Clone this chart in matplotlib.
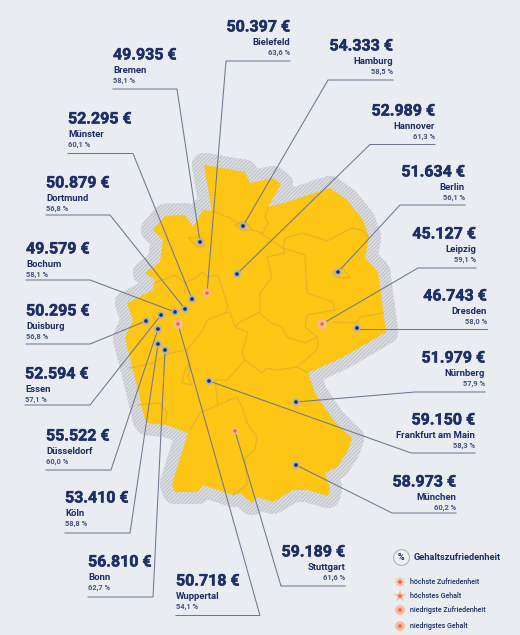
"""Gehalt und Gehaltszufriedenheit in deutschen Staedten, Karte mit Beschriftungen"""

import numpy as np
import matplotlib
matplotlib.use('Agg')
import matplotlib.pyplot as plt
import matplotlib.patheffects as pe

plt.rcParams['font.family'] = ['Roboto', 'DejaVu Sans']
plt.rcParams['hatch.color'] = '#b4b9be'
plt.rcParams['hatch.linewidth'] = 0.5

# values
cities = ['Bremen', 'Bielefeld', 'Hamburg', 'Münster', 'Hannover', 'Dortmund', 'Berlin', 'Bochum',
          'Leipzig', 'Duisburg', 'Dresden', 'Essen', 'Nürnberg', 'Frankfurt am Main', 'Düsseldorf',
          'München', 'Köln', 'Bonn', 'Stuttgart', 'Wuppertal']
salaries = ['49.935 €', '50.397 €', '54.333 €', '52.295 €', '52.989 €', '50.879 €', '51.634 €', '49.579 €',
            '45.127 €', '50.295 €', '46.743 €', '52.594 €', '51.979 €', '59.150 €', '55.522 €',
            '58.973 €', '53.410 €', '56.810 €', '59.189 €', '50.718 €']
satisfaction = ['58,1 %', '63,6 %', '58,5 %', '60,1 %', '61,3 %', '56,8 %', '56,1 %', '58,1 %',
                '59,1 %', '56,8 %', '58,0 %', '57,1 %', '57,9 %', '58,3 %', '60,0 %',
                '60,2 %', '58,8 %', '62,7 %', '61,6 %', '54,1 %']
kinds = ['', 'top_sat', '', '', '', '', '', '',
         'low_pay', '', '', '', '', '', '',
         '', '', '', 'top_pay', 'low_sat']

# where the cities sit on the map (picture pixels)
city_x = [200, 207, 243, 192, 237, 185, 338, 175, 322, 146, 357, 161, 296, 209, 158, 296, 158, 165, 235, 178]
city_y = [242, 293, 226, 299, 274, 309, 272, 312, 324, 321, 328, 315, 402, 381, 329, 465, 344, 350, 431, 324]

# label blocks: text edge, y of amount, rule y, far end and elbow of the rule
label_x = [113, 290, 393, 68, 435, 46, 465, 26, 476, 26, 487, 25, 485, 475, 46, 456, 65, 88, 345, 176]
label_y = [55, 27, 46, 119, 111, 183, 172, 249, 234, 311, 296, 374, 358, 420, 436, 482, 498, 562, 552, 581]
rule_y = [89, 61, 80, 153.5, 144.5, 215, 205, 280, 268, 344, 329, 405, 392, 453, 470, 513, 533, 597, 586, 615.5]
elbow_x = [177, 226, 328, 133, 370, 110, 400, 90, 418, 90, 357, 90, 415, 411, 111, 392, 130, 153, 281, 260]
right_aligned = [False, True, True, False, True, False, True, False, True, False, True, False, True, True,
                 False, True, False, False, True, False]

# Germany outline and inner borders
outline = [(204, 165), (245, 172), (250, 183), (273, 178), (281, 184), (268, 207), (287, 202), (330, 188),
           (347, 200), (363, 220), (369, 237), (365, 258), (378, 272), (386, 332), (343, 357), (308, 373),
           (315, 393), (333, 420), (352, 438), (348, 450), (337, 467), (325, 473), (330, 488), (328, 496),
           (307, 490), (293, 490), (273, 502), (257, 497), (252, 503), (240, 493), (233, 495), (203, 485),
           (198, 492), (175, 492), (172, 484), (188, 433), (167, 425), (147, 423), (145, 420), (138, 390),
           (130, 358), (125, 338), (133, 320), (127, 303), (153, 290), (155, 280), (145, 273), (160, 262),
           (163, 240), (153, 230), (165, 216), (185, 215), (193, 227), (203, 210), (212, 211)]
borders = [
    [(212, 211), (230, 218), (237, 223), (245, 221), (252, 230), (263, 233), (268, 223), (265, 217), (268, 207)],
    [(260, 233), (283, 248), (305, 255), (307, 293), (333, 302), (335, 310), (307, 315), (305, 327), (317, 337),
     (305, 343), (287, 337), (282, 327), (270, 322), (260, 313), (260, 293), (272, 277), (267, 257), (285, 253),
     (283, 248)],
    [(285, 238), (303, 233), (327, 241), (352, 228), (362, 230), (368, 237)],
    [(283, 248), (285, 238)],
    [(260, 312), (240, 322), (235, 327), (230, 312), (225, 313), (228, 307), (218, 275), (208, 277), (202, 272),
     (197, 277), (185, 283), (185, 293)],
    [(185, 283), (175, 275), (155, 283)],
    [(235, 327), (248, 332), (242, 353), (245, 360), (227, 380), (215, 380), (218, 405), (200, 413), (190, 430)],
    [(225, 313), (207, 320), (203, 330), (187, 350), (170, 353), (153, 363), (130, 368)],
    [(187, 350), (190, 363), (185, 370), (182, 383), (192, 385), (188, 377), (190, 363)],
    [(218, 405), (237, 397), (242, 407), (248, 425), (257, 437), (255, 450), (245, 458), (247, 485), (233, 495)],
    [(245, 360), (262, 373), (267, 368), (277, 370), (297, 367), (308, 373)],
    [(297, 367), (317, 350), (318, 342), (317, 337)],
    [(333, 322), (357, 323), (360, 317), (383, 313)],
    [(138, 405), (160, 403), (167, 413), (165, 423)],
    [(189, 238), (202, 237), (204, 247), (197, 247), (189, 238)],
    [(235, 225), (245, 221), (252, 230), (242, 230), (235, 225)],
    [(333, 272), (342, 267), (350, 278), (335, 277), (333, 272)],
]

legend_labels = ['höchste Zufriedenheit', 'höchstes Gehalt', 'niedrigste Zufriedenheit', 'niedrigstes Gehalt']
legend_kinds = ['top_sat', 'top_pay', 'low_sat', 'low_pay']
legend_y = [582, 596, 610, 626]

navy = '#1c2f66'
line_col = '#6f7890'
bg = '#e9ecf0'
yellow = '#fdc514'
heavy = [pe.withStroke(linewidth=0.35, foreground=navy)]


def draw_marker(ax, x, y, kind):
    """one city marker, plain dot or one of the four highlighted ones"""
    if kind == '':
        ax.scatter(x, y, s=30, color='#aab3c4', edgecolors='none', zorder=5)
        ax.scatter(x, y, s=7, color=navy, edgecolors='none', zorder=6)
        return
    shape = {'top_sat': (8, 1, 0), 'top_pay': '*', 'low_sat': 'o', 'low_pay': 'o'}[kind]
    size = {'top_sat': 70, 'top_pay': 80, 'low_sat': 50, 'low_pay': 50}[kind]
    ax.scatter(x, y, s=size, marker=shape, color='#f8b9a0', edgecolors='none', zorder=5)
    ax.scatter(x, y, s=7, color='#ef6a3c', edgecolors='none', zorder=6)


fig = plt.figure(figsize=(5.2, 6.35), dpi=100, facecolor=bg)
ax = fig.add_axes([0, 0, 1, 1])
ax.set_xlim(0, 520)
ax.set_ylim(635, 0)
ax.axis('off')

# hatched halo round the country: everything closer than 12 px to the outline
shape = np.array(outline)
grid_x, grid_y = np.meshgrid(np.arange(90, 420, 1.0), np.arange(140, 530, 1.0))
pts = np.column_stack([grid_x.ravel(), grid_y.ravel()])
a = shape
b = np.roll(shape, -1, axis=0)
dist = np.full(len(pts), 1e9)
for p, q in zip(a, b):
    d = q - p
    t = np.clip(((pts - p) @ d) / (d @ d), 0, 1)
    dist = np.minimum(dist, np.hypot(*(pts - p - t[:, None] * d).T))
dist = dist.reshape(grid_x.shape)
ax.contourf(grid_x, grid_y, dist, levels=[0, 12], colors=['#dadde1'], hatches=['/////////'], zorder=1)

ax.fill(shape[:, 0], shape[:, 1], color=yellow, zorder=2, lw=0)
for border in borders:
    line = np.array(border)
    ax.plot(line[:, 0], line[:, 1], color='#e6b22c', lw=0.8, zorder=3)

# labels and leader lines
for i in range(len(cities)):
    ha = 'right' if right_aligned[i] else 'left'
    x0 = label_x[i]
    ax.text(x0, label_y[i], salaries[i], ha=ha, va='center', fontsize=11.5, fontweight='bold', color=navy,
            path_effects=heavy)
    ax.text(x0, label_y[i] + 15.5, cities[i], ha=ha, va='center', fontsize=6.8, fontweight='bold', color=navy)
    ax.text(x0, label_y[i] + 26, satisfaction[i], ha=ha, va='center', fontsize=5.4, fontweight='bold',
            color='#44547f')
    ax.plot([x0, elbow_x[i], city_x[i]], [rule_y[i], rule_y[i], city_y[i]], color=line_col, lw=0.75, zorder=4)
    draw_marker(ax, city_x[i], city_y[i], kinds[i])

# legend
ax.scatter(401, 557, s=130, color='#eef0f3', edgecolors='#aab3c4', linewidths=0.8, zorder=5)
ax.text(401, 557, '%', ha='center', va='center', fontsize=6.5, fontweight='bold', color=navy, zorder=6)
ax.text(414, 557, 'Gehaltszufriedenheit', ha='left', va='center', fontsize=6.7, fontweight='bold', color=navy)
for label, kind, y in zip(legend_labels, legend_kinds, legend_y):
    draw_marker(ax, 400, y, kind)
    ax.text(410, y, label, ha='left', va='center', fontsize=5.1, fontweight='medium', color=navy)

fig.savefig('out.png', dpi=100, facecolor=bg)
